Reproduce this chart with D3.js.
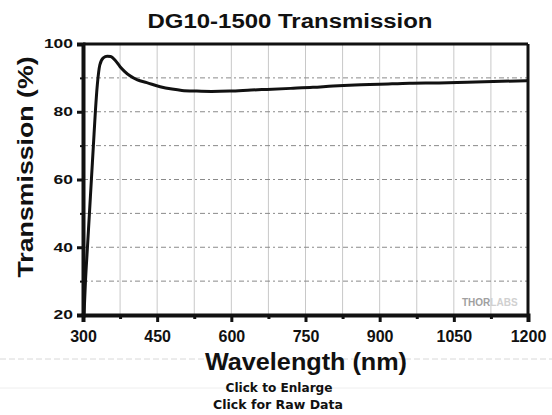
<!DOCTYPE html>
<html><head><meta charset="utf-8">
<script src="https://cdn.jsdelivr.net/npm/d3@7/dist/d3.min.js"></script>
<style>body{margin:0;background:#fff}svg{display:block}</style>
</head><body>
<svg id="c" width="552" height="415"></svg>
<script>
const wavelength = [302,305,309,313,317,321,325,329,334,341,349,356,365,375,385,395,410,429,456,480,500,530,560,597,640,672,720,765,806,850,900,961,1020,1077,1130,1200];
const transmission = [20,30,40,50,60,70,80,88,93.8,95.9,96.4,96.3,95.2,93.3,91.8,90.6,89.4,88.6,87.4,86.7,86.3,86.1,86.0,86.1,86.4,86.6,86.9,87.2,87.6,87.9,88.1,88.4,88.5,88.7,88.9,89.2];
const xTicks = [300,450,600,750,900,1050,1200];
const xMinor = [375,525,675,825,975,1125];
const yTicks = [20,40,60,80,100];
const yMinor = [30,50,70,90];
const yGrid = [30,40,50,60,70,80,90];
const xGrid = [375,450,525,600,675,750,825,900,975,1050,1125];

const svg = d3.select("#c");
const x = d3.scaleLinear().domain([300,1200]).range([83,528]);
const y = d3.scaleLinear().domain([20,100]).range([315,44]);
const bold = "'Liberation Sans', Arial, sans-serif";

// faint background page lines
svg.append("line").attr("x1",0).attr("x2",552).attr("y1",359).attr("y2",359)
  .attr("stroke","#d8d8d8").attr("stroke-dasharray","6,3").attr("stroke-width",1);
svg.append("line").attr("x1",0).attr("x2",552).attr("y1",388).attr("y2",388)
  .attr("stroke","#eeeeee").attr("stroke-width",1);

// vertical grid
svg.append("g").selectAll("line").data(xGrid).join("line")
  .attr("x1",d=>x(d)).attr("x2",d=>x(d)).attr("y1",y(100)).attr("y2",y(20))
  .attr("stroke","#c8c8c8").attr("stroke-width",1);
// horizontal grid
svg.append("g").selectAll("line").data(yGrid).join("line")
  .attr("x1",x(300)).attr("x2",x(1200)).attr("y1",d=>y(d)).attr("y2",d=>y(d))
  .attr("stroke","#8a8a8a").attr("stroke-width",1).attr("stroke-dasharray","5,3,2,3");

// watermark
const wm = svg.append("text").attr("x",462).attr("y",306)
  .attr("font-family",bold).attr("font-weight","bold").attr("font-size",10);
wm.append("tspan").attr("fill","#a0a0a0").text("THOR");
wm.append("tspan").attr("fill","#d0d0d0").text("LABS");

// curve
const line = d3.line().x((d,i)=>x(wavelength[i])).y(d=>y(d)).curve(d3.curveMonotoneX);
svg.append("path").datum(transmission).attr("d",line)
  .attr("fill","none").attr("stroke","#111").attr("stroke-width",3).attr("stroke-linejoin","round");

// frame top/right
svg.append("line").attr("x1",x(300)).attr("x2",x(1200)).attr("y1",y(100)).attr("y2",y(100))
  .attr("stroke","#111").attr("stroke-width",3);
svg.append("line").attr("x1",x(1200)).attr("x2",x(1200)).attr("y1",y(100)).attr("y2",y(20))
  .attr("stroke","#111").attr("stroke-width",3);

// x axis
const xAxis = d3.axisBottom(x).tickValues(xTicks).tickSize(7).tickFormat(d3.format("d"));
const gx = svg.append("g").attr("transform",`translate(0,${y(20)})`).call(xAxis);
gx.select(".domain").attr("stroke","#111").attr("stroke-width",4);
gx.selectAll(".tick line").attr("stroke","#111").attr("stroke-width",3);
gx.selectAll(".tick text").attr("font-family",bold).attr("font-weight","bold")
  .attr("font-size",16).attr("fill","#111").attr("dy","1.05em");
const gxm = svg.append("g").attr("transform",`translate(0,${y(20)})`)
  .call(d3.axisBottom(x).tickValues(xMinor).tickSize(4).tickFormat(""));
gxm.select(".domain").remove();
gxm.selectAll(".tick line").attr("stroke","#111").attr("stroke-width",3);

// y axis
const yAxis = d3.axisLeft(y).tickValues(yTicks).tickSize(6).tickPadding(4);
const gy = svg.append("g").attr("transform",`translate(${x(300)},0)`).call(yAxis);
gy.select(".domain").attr("stroke","#111").attr("stroke-width",4);
gy.selectAll(".tick line").attr("stroke","#111").attr("stroke-width",3);
gy.selectAll(".tick text").attr("font-family",bold).attr("font-weight","bold")
  .attr("font-size",12).attr("fill","#111")
  .attr("textLength",d=>String(d).length*9.7).attr("lengthAdjust","spacingAndGlyphs");
const gym = svg.append("g").attr("transform",`translate(${x(300)},0)`)
  .call(d3.axisLeft(y).tickValues(yMinor).tickSize(3).tickFormat(""));
gym.select(".domain").remove();
gym.selectAll(".tick line").attr("stroke","#111").attr("stroke-width",2);

// titles
svg.append("text").attr("x",290).attr("y",28).attr("text-anchor","middle")
  .attr("font-family",bold).attr("font-weight","bold").attr("font-size",20).attr("fill","#111")
  .attr("textLength",285).attr("lengthAdjust","spacingAndGlyphs").text("DG10-1500 Transmission");
svg.append("text").attr("x",306).attr("y",370).attr("text-anchor","middle")
  .attr("font-family",bold).attr("font-weight","bold").attr("font-size",23).attr("fill","#111")
  .attr("textLength",202).attr("lengthAdjust","spacingAndGlyphs").text("Wavelength (nm)");
svg.append("text").attr("transform","translate(33,167) rotate(-90)").attr("text-anchor","middle")
  .attr("font-family",bold).attr("font-weight","bold").attr("font-size",22).attr("fill","#111")
  .attr("textLength",221).attr("lengthAdjust","spacingAndGlyphs").text("Transmission (%)");

svg.append("text").attr("x",279).attr("y",392).attr("text-anchor","middle")
  .attr("font-family","'DejaVu Sans', sans-serif").attr("font-weight","bold").attr("font-size",12).attr("fill","#111")
  .attr("textLength",107).attr("lengthAdjust","spacingAndGlyphs").text("Click to Enlarge");
svg.append("text").attr("x",278).attr("y",409).attr("text-anchor","middle")
  .attr("font-family","'DejaVu Sans', sans-serif").attr("font-weight","bold").attr("font-size",12).attr("fill","#111")
  .attr("textLength",130).attr("lengthAdjust","spacingAndGlyphs").text("Click for Raw Data");
</script>
</body></html>
